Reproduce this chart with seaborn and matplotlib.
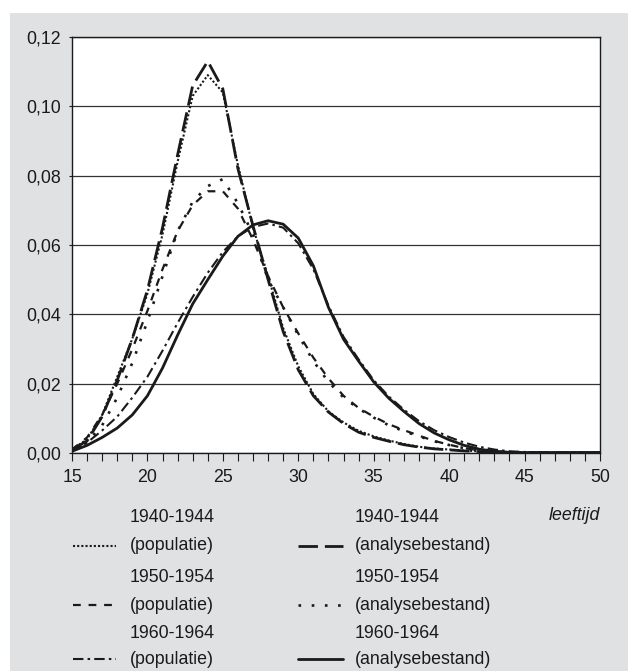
import matplotlib
matplotlib.use("Agg")
import matplotlib.pyplot as plt
import seaborn as sns
import pandas as pd
from matplotlib.patches import Rectangle
from matplotlib.lines import Line2D
from matplotlib.ticker import FuncFormatter, MultipleLocator

ages = list(range(15, 51))

pop_1940 = [0.001, 0.004, 0.011, 0.022, 0.033, 0.046, 0.063, 0.084, 0.103, 0.109,
            0.104, 0.083, 0.065, 0.051, 0.036, 0.025, 0.017, 0.012, 0.0088, 0.0064,
            0.0048, 0.0036, 0.0026, 0.0018, 0.0013, 0.001, 0.0007, 0.0005, 0.0003, 0.0002,
            0.0001, 0.0001, 0.0001, 0.0001, 0.0001, 0.0001]
ana_1940 = [0.001, 0.0035, 0.0105, 0.021, 0.033, 0.047, 0.065, 0.086, 0.106, 0.113,
            0.105, 0.082, 0.0655, 0.050, 0.035, 0.024, 0.0165, 0.0118, 0.0085, 0.006,
            0.0045, 0.0034, 0.0024, 0.0017, 0.0012, 0.0009, 0.0006, 0.0004, 0.0002, 0.0001,
            0.0001, 0.0001, 0.0001, 0.0001, 0.0001, 0.0001]
pop_1950 = [0.001, 0.0045, 0.011, 0.020, 0.030, 0.041, 0.053, 0.064, 0.0715, 0.0755,
            0.0755, 0.0705, 0.0615, 0.051, 0.042, 0.0345, 0.0275, 0.0215, 0.0165, 0.013,
            0.0105, 0.0083, 0.0066, 0.005, 0.0035, 0.0024, 0.0014, 0.0008, 0.0004, 0.0002,
            0.0001, 0.0001, 0.0001, 0.0001, 0.0001, 0.0001]
ana_1950 = [0.001, 0.003, 0.008, 0.016, 0.026, 0.038, 0.051, 0.064, 0.0725, 0.077,
            0.079, 0.072, 0.063, 0.050, 0.042, 0.034, 0.0265, 0.0205, 0.016, 0.0128,
            0.0102, 0.008, 0.0063, 0.0048, 0.0034, 0.0023, 0.0014, 0.0008, 0.0004, 0.0002,
            0.0001, 0.0001, 0.0001, 0.0001, 0.0001, 0.0001]
pop_1960 = [0.0008, 0.003, 0.0065, 0.0105, 0.016, 0.022, 0.0295, 0.0375, 0.045, 0.052,
            0.058, 0.0625, 0.0652, 0.0662, 0.065, 0.0605, 0.053, 0.0425, 0.0335, 0.027,
            0.021, 0.0163, 0.0125, 0.0092, 0.0066, 0.0046, 0.003, 0.0018, 0.001, 0.0005,
            0.0003, 0.0002, 0.0001, 0.0001, 0.0001, 0.0001]
ana_1960 = [0.0005, 0.0022, 0.0045, 0.0072, 0.011, 0.0165, 0.0245, 0.034, 0.043, 0.050,
            0.0568, 0.0625, 0.0658, 0.0670, 0.066, 0.062, 0.054, 0.042, 0.0328, 0.0265,
            0.0205, 0.0158, 0.012, 0.0085, 0.0058, 0.0038, 0.0022, 0.0011, 0.0005, 0.0002,
            0.0001, 0.0001, 0.0001, 0.0001, 0.0001, 0.0001]

cohorts = ["1940-1944", "1950-1954", "1960-1964"]
pop_label = "(populatie)"
ana_label = "(analysebestand)"
x_label = "leeftijd"

ink = "#1a1a1a"
fs = 12.8
# (values, linestyle, linewidth) in legend order: left column populatie, right column analysebestand
series = [
    (pop_1940, (0, (1, 1)), 1.5),
    (pop_1950, (0, (3.5, 3.5)), 1.6),
    (pop_1960, (0, (5, 2, 1.2, 2)), 1.5),
    (ana_1940, (0, (7, 2.5)), 2.0),
    (ana_1950, (0, (1, 4)), 1.9),
    (ana_1960, "-", 2.0),
]

sns.set_style("white")
plt.rcParams['font.family'] = ['Liberation Sans', 'DejaVu Sans']

W, H = 628, 671
fig = plt.figure(figsize=(W / 100, H / 100), dpi=100, facecolor="white")
fig.patches.append(Rectangle((10 / W, 0), 1, (H - 13) / H, transform=fig.transFigure,
                             facecolor="#e0e1e3", edgecolor="none", zorder=-10))

ax = fig.add_axes([72 / W, (H - 453) / H, (600 - 72) / W, (453 - 37) / H])
ax.set_facecolor("white")

for vals, ls, lw in series:
    sns.lineplot(x=ages, y=vals, ax=ax, color=ink, linestyle=ls, linewidth=lw)

ax.set_xlim(15, 50)
ax.set_ylim(0, 0.12)
ax.yaxis.set_major_locator(MultipleLocator(0.02))
ax.xaxis.set_major_locator(MultipleLocator(5))
ax.xaxis.set_minor_locator(MultipleLocator(1))
ax.yaxis.set_major_formatter(FuncFormatter(lambda v, p: f"{v:.2f}".replace(".", ",")))
ax.grid(axis="y", color="#333333", linewidth=0.9)
ax.set_axisbelow(True)
for s in ax.spines.values():
    s.set_color(ink)
    s.set_linewidth(1.0)
ax.tick_params(axis="x", which="both", direction="out", length=5.5, width=0.8,
               color=ink, pad=6, labelsize=fs, labelcolor=ink, bottom=True)
ax.tick_params(axis="y", direction="out", length=2, width=0.8, color=ink,
               pad=6, labelsize=fs, labelcolor=ink, left=True)
ax.set_xlabel("")
ax.set_ylabel("")

fig.text(600 / W, 1 - 515 / H, x_label, ha="right", va="center", fontsize=fs,
         style="italic", color=ink)

# legend, two columns of three entries
col_x = [(73, 116, 130), (298, 343, 355)]
row_y = [(518, 546), (578, 605), (633, 659)]
for i, (vals, ls, lw) in enumerate(series):
    col, row = divmod(i, 3)
    x0, x1, tx = col_x[col]
    y1, y2 = row_y[row]
    fig.add_artist(Line2D([x0 / W, x1 / W], [1 - y2 / H, 1 - y2 / H], transform=fig.transFigure,
                          color=ink, linestyle=ls, linewidth=lw))
    fig.text(tx / W, 1 - y1 / H, cohorts[row], ha="left", va="center", fontsize=fs, color=ink)
    fig.text(tx / W, 1 - y2 / H, pop_label if col == 0 else ana_label,
             ha="left", va="center", fontsize=fs, color=ink)

fig.savefig("out.png", dpi=100, facecolor="white")
